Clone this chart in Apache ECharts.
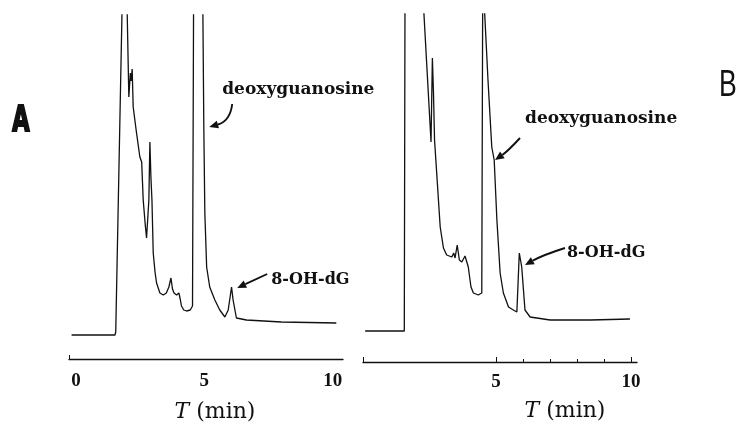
<!DOCTYPE html>
<html>
<head>
<meta charset="utf-8">
<script src="https://cdn.jsdelivr.net/npm/echarts@6/dist/echarts.min.js"></script>
<style>
  html, body { margin: 0; padding: 0; background: #fff; }
  #main { width: 747px; height: 427px; }
</style>
</head>
<body>
<div id="main"></div>
<script>
// chromatogram A: retention time (min) / detector signal (arbitrary units)
const timeA = [-0.17, 1.52, 1.55, 1.85, 1.94, 2.06, 2.12, 2.15, 2.19, 2.23, 2.36, 2.49, 2.53, 2.56, 2.62, 2.70, 2.75, 2.80, 2.84, 2.88, 2.92, 2.96, 3.01, 3.08, 3.14, 3.27, 3.40, 3.52, 3.62, 3.70, 3.76, 3.82, 3.92, 4.01, 4.06, 4.11, 4.20, 4.31, 4.45, 4.54, 4.59, 4.92, 4.98, 5.02, 5.09, 5.21, 5.41, 5.60, 5.80, 5.93, 6.06, 6.12, 6.25, 6.64, 8.0, 10.14];
const signalA = [24, 24, 27, 420, 420, 262, 286, 278, 290, 252, 226, 202, 204, 197, 159, 134, 121, 142, 159, 217, 182, 159, 106, 87, 76, 66, 64, 66, 72, 81, 70, 66, 64, 66, 60, 53, 49, 48, 49, 53, 420, 420, 232, 146, 92, 72, 59, 49, 42, 49, 72, 59, 41, 39, 37, 36];

// chromatogram B
const timeB = [0.15, 1.60, 1.63, 2.18, 2.59, 2.64, 2.68, 2.72, 2.80, 2.93, 3.05, 3.17, 3.36, 3.43, 3.48, 3.56, 3.64, 3.73, 3.85, 3.97, 4.07, 4.16, 4.34, 4.47, 4.51, 4.52, 4.575, 4.70, 4.84, 4.93, 5.03, 5.15, 5.27, 5.46, 5.64, 5.77, 5.86, 5.95, 6.07, 6.26, 7.0, 8.5, 9.96];
const signalB = [31, 31, 420, 420, 220, 304, 270, 222, 189, 135, 114, 107, 105, 109, 104, 117, 102, 100, 106, 95, 75, 69, 67, 69, 420, 420, 350, 282, 215, 202, 142, 89, 69, 55, 52, 50, 109, 95, 52, 45, 42, 42, 43];

const tickLabelsA = [0, 5, 10];
const tickLabelsB = [5, 10];
const minorTicksB = [6, 7, 8, 9];
const axisTitle = '{it|T} (min)';
const panelNames = ['A', 'B'];
const peakNames = ['deoxyguanosine', '8-OH-dG'];
// arrow tips, in data units [time, signal]
const tipsA = [[5.19, 232], [6.28, 71]];
const tipsB = [[4.96, 202], [6.07, 97]];

const ink = '#111';
const numFont = { color: ink, fontFamily: 'Liberation Serif', fontWeight: 'bold', fontSize: 19 };

function xAxisBase(grid, min, max) {
    return {
        type: 'value', gridIndex: grid, min: min, max: max, position: 'bottom', offset: 0,
        splitLine: { show: false },
        axisLine: { show: true, onZero: false, lineStyle: { color: ink, width: 1.3 } }
    };
}

const chart = echarts.init(document.getElementById('main'));
chart.setOption({
    animation: false,
    backgroundColor: '#fff',
    grid: [
        { left: 69, top: 15, width: 274, height: 344, containLabel: false, outerBoundsMode: 'none' },
        { left: 363, top: 14, width: 274, height: 348, containLabel: false, outerBoundsMode: 'none' }
    ],
    xAxis: [
        Object.assign(xAxisBase(0, -0.27, 10.4), {
            axisTick: { show: true, inside: true, length: 4, customValues: [-0.25], lineStyle: { color: ink } },
            axisLabel: Object.assign({ margin: 13, customValues: tickLabelsA }, numFont)
        }),
        Object.assign(xAxisBase(1, 0.07, 10.22), {
            axisTick: { show: true, inside: true, length: 5, customValues: [0.09, 5, 10], lineStyle: { color: ink } },
            axisLabel: Object.assign({ margin: 11, customValues: tickLabelsB }, numFont)
        }),
        // short ticks between 5 and 10 on B
        Object.assign(xAxisBase(1, 0.07, 10.22), {
            axisLine: { show: false, onZero: false },
            axisTick: { show: true, inside: true, length: 3, customValues: minorTicksB, lineStyle: { color: ink } },
            axisLabel: { show: false }
        })
    ],
    yAxis: [
        { type: 'value', gridIndex: 0, min: 0, max: 344, show: false },
        { type: 'value', gridIndex: 1, min: 0, max: 348, show: false }
    ],
    series: [
        {
            type: 'line', xAxisIndex: 0, yAxisIndex: 0, showSymbol: false, clip: true,
            lineStyle: { color: ink, width: 1.3 },
            data: timeA.map((t, i) => [t, signalA[i]])
        },
        {
            type: 'line', xAxisIndex: 1, yAxisIndex: 1, showSymbol: false, clip: true,
            lineStyle: { color: ink, width: 1.3 },
            data: timeB.map((t, i) => [t, signalB[i]])
        }
    ]
});

// annotations: arrows anchored on the peaks, labels next to them
function arrow(tip, dx, dy, cx, cy) {
    const tail = [tip[0] + dx, tip[1] + dy];
    const ctrl = [tip[0] + cx, tip[1] + cy];
    const ang = Math.atan2(tip[1] - ctrl[1], tip[0] - ctrl[0]);
    const len = 9, half = 4;
    const bx = tip[0] - len * Math.cos(ang), by = tip[1] - len * Math.sin(ang);
    const nx = -Math.sin(ang) * half, ny = Math.cos(ang) * half;
    return [
        {
            type: 'bezierCurve', silent: true,
            shape: { x1: tail[0], y1: tail[1], x2: bx, y2: by, cpx1: ctrl[0], cpy1: ctrl[1] },
            style: { stroke: ink, lineWidth: 1.9, fill: null }
        },
        {
            type: 'polygon', silent: true,
            shape: { points: [tip, [bx + nx, by + ny], [bx - nx, by - ny]] },
            style: { fill: ink }
        }
    ];
}
function label(text, x, y, size) {
    return {
        type: 'text', x: x, y: y, silent: true,
        style: {
            text: text, fill: ink, fontFamily: 'DejaVu Serif', fontWeight: 'bold', fontSize: size,
            align: 'left', verticalAlign: 'middle'
        }
    };
}
function title(x, y) {
    return {
        type: 'text', x: x, y: y, silent: true,
        style: {
            text: axisTitle, fill: ink, fontFamily: 'DejaVu Serif', fontSize: 22,
            align: 'center', verticalAlign: 'middle',
            rich: { it: { fontStyle: 'italic', fontFamily: 'DejaVu Serif', fontSize: 22, fill: ink } }
        }
    };
}

const pA = tipsA.map(p => chart.convertToPixel({ seriesIndex: 0 }, p));
const pB = tipsB.map(p => chart.convertToPixel({ seriesIndex: 1 }, p));

const g = [];
g.push(...arrow(pA[0], 23, -23, 21, -6));
g.push(...arrow(pA[1], 30, -14, 15, -7));
g.push(...arrow(pB[0], 25, -22, 13, -9));
g.push(...arrow(pB[1], 40, -17, 18, -10));
g.push(label(peakNames[0], pA[0][0] + 13, pA[0][1] - 37, 17));
g.push(label(peakNames[1], pA[1][0] + 34, pA[1][1] - 8, 16));
g.push(label(peakNames[0], pB[0][0] + 30, pB[0][1] - 41, 17));
g.push(label(peakNames[1], pB[1][0] + 42, pB[1][1] - 12, 16));
g.push(title(215, 412));
g.push(title(565, 411));
g.push({
    type: 'text', x: 21, y: 122, scaleX: 0.62, silent: true,
    style: {
        text: panelNames[0], fill: ink, stroke: ink, lineWidth: 2.2,
        fontFamily: 'DejaVu Sans', fontWeight: 'bold', fontSize: 36,
        align: 'center', verticalAlign: 'middle'
    }
});
g.push({
    type: 'text', x: 728, y: 86, scaleX: 0.72, silent: true,
    style: {
        text: panelNames[1], fill: ink, fontFamily: 'Liberation Sans', fontSize: 37,
        align: 'center', verticalAlign: 'middle'
    }
});
chart.setOption({ graphic: g });
</script>
</body>
</html>
